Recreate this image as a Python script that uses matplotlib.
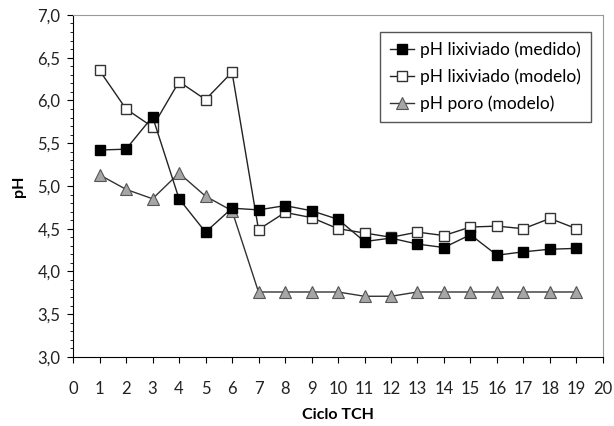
import matplotlib.pyplot as plt
from matplotlib.ticker import MultipleLocator, FuncFormatter

plt.rcParams['font.family'] = ['Lato', 'DejaVu Sans']

ciclo = list(range(1, 20))
ph_medido = [5.42, 5.43, 5.81, 4.85, 4.46, 4.74, 4.72, 4.77, 4.71, 4.61,
             4.35, 4.39, 4.32, 4.28, 4.43, 4.19, 4.23, 4.26, 4.27]
ph_modelo = [6.35, 5.90, 5.69, 6.22, 6.01, 6.33, 4.49, 4.69, 4.63, 4.50,
             4.45, 4.40, 4.46, 4.42, 4.52, 4.53, 4.50, 4.62, 4.50]
ph_poro = [5.13, 4.96, 4.85, 5.15, 4.88, 4.71, 3.76, 3.76, 3.76, 3.76,
           3.71, 3.71, 3.76, 3.76, 3.76, 3.76, 3.76, 3.76, 3.76]

fig = plt.figure(figsize=(6.14, 4.26), dpi=100)
ax = fig.add_axes([0.119, 0.162, 0.863, 0.803])

ax.plot(ciclo, ph_medido, color='#222222', lw=1, marker='s', ms=7.5,
        mfc='black', mec='black', label='pH lixiviado (medido)', zorder=4)
ax.plot(ciclo, ph_modelo, color='#222222', lw=1, marker='s', ms=7.5,
        mfc='white', mec='#333333', mew=1, label='pH lixiviado (modelo)', zorder=3)
ax.plot(ciclo, ph_poro, color='#333333', lw=1, marker='^', ms=8,
        mfc='#a6a6a6', mec='#555555', mew=0.8, label='pH poro (modelo)', zorder=2)

ax.set_xlim(0, 20)
ax.set_ylim(3.0, 7.0)
ax.xaxis.set_major_locator(MultipleLocator(1))
ax.yaxis.set_major_locator(MultipleLocator(0.5))
ax.yaxis.set_minor_locator(MultipleLocator(0.1))
ax.yaxis.set_major_formatter(FuncFormatter(lambda v, p: f'{v:.1f}'.replace('.', ',')))
ax.tick_params(axis='both', direction='out', labelsize=12, color='black', labelcolor='#222222')
ax.tick_params(axis='y', which='major', length=4, pad=5)
ax.tick_params(axis='y', which='minor', length=2.5)
ax.tick_params(axis='x', which='major', length=4.5, pad=13)

for s in ['top', 'right']:
    ax.spines[s].set_color('#999999')
for s in ['left', 'bottom']:
    ax.spines[s].set_color('black')

ax.set_xlabel('Ciclo TCH', fontweight='bold', fontsize=11.5, labelpad=8)
ax.set_ylabel('pH', fontweight='bold', fontsize=11.5, labelpad=8)

leg = ax.legend(loc='upper right', bbox_to_anchor=(0.993, 0.975), fontsize=12.5,
                fancybox=False, edgecolor='#555555', framealpha=1,
                handlelength=1.4, handletextpad=0.35, borderpad=0.55, labelspacing=0.6)
leg.get_frame().set_linewidth(1)

fig.savefig('out.png', dpi=100)
